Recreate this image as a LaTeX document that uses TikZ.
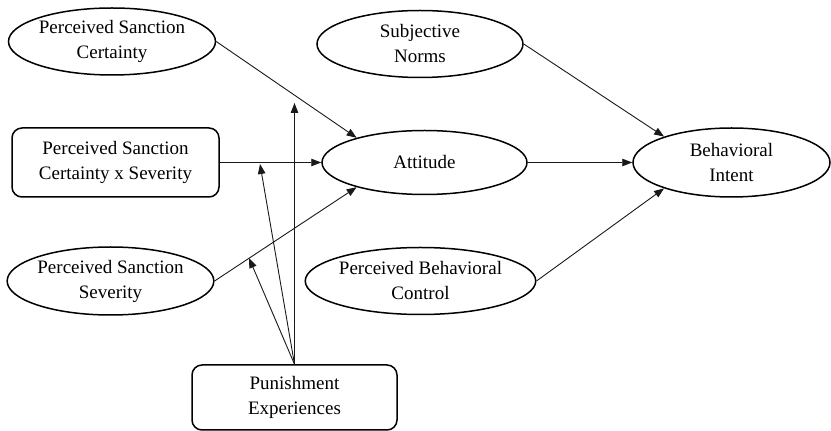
\documentclass[tikz,border=0pt]{standalone}
\usepackage{fontspec}
\setmainfont{Liberation Serif}
\usetikzlibrary{arrows.meta,shapes.geometric}
\begin{document}
\begin{tikzpicture}[x=1pt,y=1pt,
  every node/.style={font=\fontsize{19}{25}\selectfont, align=center, text=black},
  oval/.style={ellipse, draw=black, line width=1.5pt, inner sep=0pt},
  rbox/.style={rectangle, rounded corners=10pt, draw=black, line width=1.5pt, inner sep=0pt},
  conn/.style={draw=black!90, line width=0.9pt, -{Triangle[length=10pt,width=7.5pt]}}
]
\useasboundingbox (0,0) rectangle (831,431);
% left column
\node[oval, minimum width=207pt, minimum height=67pt] (psc) at (112,389.5) {Perceived Sanction\\Certainty};
\node[rbox, minimum width=207pt, minimum height=69pt] (pscxs) at (115.5,268.5) {Perceived Sanction\\Certainty x Severity};
\node[oval, minimum width=206pt, minimum height=68pt] (pss) at (110.5,150) {Perceived Sanction\\Severity};
% middle column
\node[oval, minimum width=206pt, minimum height=67pt] (sn) at (420,387) {Subjective\\Norms};
\node[oval, minimum width=205pt, minimum height=64pt] (att) at (424.5,268.5) {Attitude};
\node[oval, minimum width=206pt, minimum height=67pt] (pbc) at (420.5,150) {Perceived Behavioral\\Control};
% right
\node[oval, minimum width=197pt, minimum height=69pt] (bi) at (731.5,268.5) {Behavioral\\Intent};
% bottom
\node[rbox, minimum width=205pt, minimum height=65pt] (pe) at (294.5,33.5) {Punishment\\Experiences};
% moderator targets
\coordinate (m1) at (294.5,328);
\coordinate (m2) at (260,267);
\coordinate (m3) at (249,173);
% connectors
\draw[conn] (psc.east) -- (att.160);
\draw[conn] (pscxs.east) -- (att.west);
\draw[conn] (pss.east) -- (att.200);
\draw[conn] (sn.east) -- (bi.159);
\draw[conn] (att.east) -- (bi.west);
\draw[conn] (pbc.east) -- (bi.201);
\draw[conn] (pe.north) -- (m1);
\draw[conn] (pe.north) -- (m2);
\draw[conn] (pe.north) -- (m3);
\end{tikzpicture}
\end{document}
